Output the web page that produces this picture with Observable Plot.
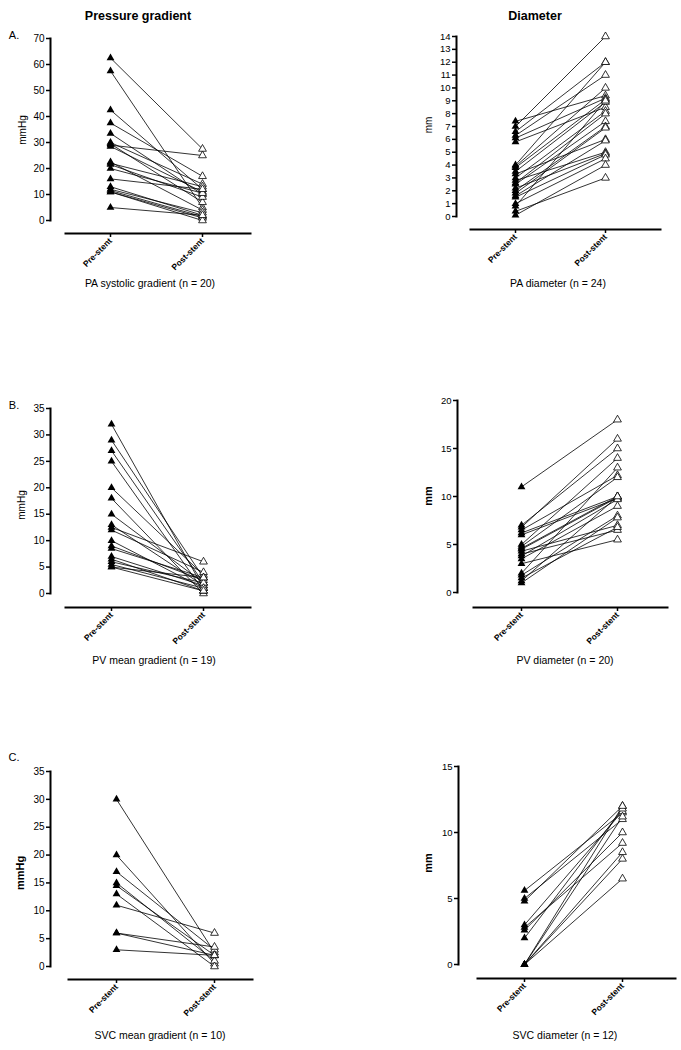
<!DOCTYPE html>
<html><head><meta charset="utf-8">
<script src="https://cdn.jsdelivr.net/npm/d3@7"></script>
<script src="https://cdn.jsdelivr.net/npm/@observablehq/plot@0.6"></script>
<style>
body{margin:0;background:#fff;font-family:"Liberation Sans",Arial,sans-serif;}
#root{position:relative;width:681px;height:1050px;overflow:hidden;background:#fff}
.abs{position:absolute;white-space:nowrap;color:#000;transform:translate(-50%,-50%);line-height:1}
.panel{position:absolute}
</style></head><body><div id="root"></div>
<script>
const groups = ["Pre-stent", "Post-stent"];

// A. PA systolic gradient (mmHg), n = 20
const paGradPre  = [62.5, 57.5, 42.5, 37.5, 33.5, 30, 29.5, 29, 28.5, 22.5, 22, 21.5, 20, 16, 13, 12, 11.5, 11, 11, 5];
const paGradPost = [27.5, 5, 12, 17, 10, 14, 7, 25, 11, 4, 13, 9, 10.5, 12, 2, 3, 1.5, 1, 0, 2];
// A. PA diameter (mm), n = 24
const paDiamPre  = [7.4, 7.0, 6.6, 6.3, 6.1, 5.8, 4.0, 3.9, 3.8, 3.5, 3.3, 3.0, 2.8, 2.6, 2.5, 2.2, 2.0, 1.8, 1.6, 1.5, 1.0, 0.8, 0.4, 0.1];
const paDiamPost = [9.4, 14, 12, 11, 9.2, 8.5, 12, 10, 9.1, 8.9, 6.0, 8.2, 5.0, 8.0, 7.4, 4.9, 7.0, 6.9, 5.9, 4.8, 4.5, 9.0, 3.0, 4.0];
// B. PV mean gradient (mmHg), n = 19
const pvGradPre  = [32, 29, 27, 25, 20, 18, 15, 13, 12.5, 12, 10, 9, 8.5, 7, 6.5, 6, 5.5, 5, 5];
const pvGradPost = [1, 3, 2, 0.5, 3.5, 0, 2, 1.5, 6, 4, 1, 2.5, 3, 1.5, 0.5, 2, 1, 0.5, 3];
// B. PV diameter (mm), n = 20
const pvDiamPre  = [11, 7, 6.8, 6.5, 6.2, 6, 5, 4.8, 4.6, 4.5, 4.3, 4, 3.8, 3.5, 3, 2, 1.8, 1.5, 1.2, 1];
const pvDiamPost = [18, 15, 16, 12.2, 10, 9.8, 14, 12, 10, 9.9, 7, 6.5, 9.7, 9, 5.5, 13, 8, 6.8, 10, 7.8];
// C. SVC mean gradient (mmHg), n = 10
const svcGradPre  = [30, 20, 17, 15, 14.5, 13, 11, 6, 6, 3];
const svcGradPost = [2.5, 0.5, 3, 1, 2, 0, 6, 3.5, 2, 2];
// C. SVC diameter (mm), n = 12
const svcDiamPre  = [5.6, 5.0, 4.8, 3.0, 2.8, 2.6, 2.0, 0, 0, 0, 0, 0];
const svcDiamPost = [11.5, 11, 12, 11.6, 9.2, 10, 11.8, 6.5, 8.0, 8.5, 12, 11.2];

const panels = [
  {pre: paGradPre, post: paGradPost, domain: [0, 70], step: 10, tickFont: 10,
   left: 0, top: 0, axisX: 50, yTop: 38, yZero: 220, base: 233, baseStart: 65, baseEnd: 250, xPre: 110, xPost: 202},
  {pre: paDiamPre, post: paDiamPost, domain: [0, 14], step: 1, tickFont: 9.5,
   left: 340, top: 0, axisX: 456, yTop: 36, yZero: 216, base: 229, baseStart: 470, baseEnd: 660, xPre: 515, xPost: 605},
  {pre: pvGradPre, post: pvGradPost, domain: [0, 35], step: 5, tickFont: 10,
   left: 0, top: 380, axisX: 50, yTop: 408, yZero: 593, base: 607, baseStart: 65, baseEnd: 250, xPre: 111, xPost: 203},
  {pre: pvDiamPre, post: pvDiamPost, domain: [0, 20], step: 5, tickFont: 9.5,
   left: 340, top: 380, axisX: 457, yTop: 400, yZero: 592, base: 607, baseStart: 473, baseEnd: 667, xPre: 521, xPost: 617},
  {pre: svcGradPre, post: svcGradPost, domain: [0, 35], step: 5, tickFont: 10,
   left: 0, top: 740, axisX: 50, yTop: 771, yZero: 966, base: 979, baseStart: 68, baseEnd: 252, xPre: 116, xPost: 214},
  {pre: svcDiamPre, post: svcDiamPost, domain: [0, 15], step: 5, tickFont: 9.5,
   left: 340, top: 740, axisX: 458, yTop: 766, yZero: 964, base: 978, baseStart: 477, baseEnd: 675, xPre: 524, xPost: 622}
];

const texts = [
  {t: "Pressure gradient", x: 138, y: 16, size: 12.5, bold: true},
  {t: "Diameter", x: 535, y: 16, size: 12.5, bold: true},
  {t: "A.", x: 14, y: 35, size: 11},
  {t: "B.", x: 14, y: 405, size: 11},
  {t: "C.", x: 14, y: 757, size: 11},
  {t: "PA systolic gradient (n = 20)", x: 150, y: 283, size: 10.5},
  {t: "PA diameter (n = 24)", x: 558, y: 283, size: 10.5},
  {t: "PV mean gradient (n = 19)", x: 154, y: 660, size: 10.5},
  {t: "PV diameter (n = 20)", x: 565, y: 660, size: 10.5},
  {t: "SVC mean gradient (n = 10)", x: 160, y: 1035, size: 10.5},
  {t: "SVC diameter (n = 12)", x: 565, y: 1035, size: 10.5},
  {t: "mmHg", x: 23, y: 130, size: 10, rot: true},
  {t: "mm", x: 429, y: 125, size: 10, rot: true},
  {t: "mmHg", x: 22, y: 505, size: 10, rot: true},
  {t: "mm", x: 428, y: 496, size: 11, rot: true, bold: true},
  {t: "mmHg", x: 20, y: 873, size: 11, rot: true, bold: true},
  {t: "mm", x: 428, y: 863, size: 11, rot: true, bold: true}
];

const root = document.getElementById("root");
const W = 340, H = 300;

for (const p of panels) {
  const idx = d3.range(p.pre.length);
  const chart = Plot.plot({
    width: W, height: H,
    marginLeft: p.axisX - p.left,
    marginTop: p.yTop - p.top,
    marginBottom: H - (p.base - p.top),
    marginRight: W - (p.baseEnd - p.left),
    x: {type: "point", domain: groups, padding: 0, range: [p.xPre - p.left, p.xPost - p.left]},
    y: {domain: p.domain, range: [p.yZero - p.top, p.yTop - p.top]},
    style: {fontFamily: '"Liberation Sans", Arial, sans-serif', color: "#000", background: "transparent", overflow: "visible"},
    marks: [
      Plot.frame({anchor: "left", insetBottom: p.base - p.yZero, stroke: "#000", strokeWidth: 2}),
      Plot.frame({anchor: "bottom", insetLeft: p.baseStart - p.axisX, stroke: "#000", strokeWidth: 2}),
      Plot.axisY({ticks: d3.range(p.domain[0], p.domain[1] + 0.001, p.step), tickSize: 4, tickPadding: 2,
                  fontSize: p.tickFont, label: null, strokeWidth: 1.5}),
      Plot.axisX({tickSize: 4, tickPadding: 2, tickRotate: -45, fontSize: 8.5, fontWeight: "bold",
                  label: null, strokeWidth: 1.5, fill: "#000"}),
      Plot.link(idx, {x1: () => groups[0], y1: i => p.pre[i], x2: () => groups[1], y2: i => p.post[i],
                      stroke: "#000", strokeWidth: 0.8}),
      Plot.dot(idx, {x: () => groups[0], y: i => p.pre[i], symbol: "triangle", fill: "#000", r: 2.9}),
      Plot.dot(idx, {x: () => groups[1], y: i => p.post[i], symbol: "triangle", fill: "#fff",
                     stroke: "#000", strokeWidth: 0.8, r: 2.9})
    ]
  });
  chart.classList.add("panel");
  chart.style.left = p.left + "px";
  chart.style.top = p.top + "px";
  root.appendChild(chart);
}

for (const d of texts) {
  const el = document.createElement("div");
  el.className = "abs";
  el.textContent = d.t;
  el.style.left = d.x + "px";
  el.style.top = d.y + "px";
  el.style.fontSize = d.size + "px";
  if (d.bold) el.style.fontWeight = "bold";
  if (d.rot) el.style.transform = "translate(-50%,-50%) rotate(-90deg)";
  root.appendChild(el);
}
</script></body></html>
